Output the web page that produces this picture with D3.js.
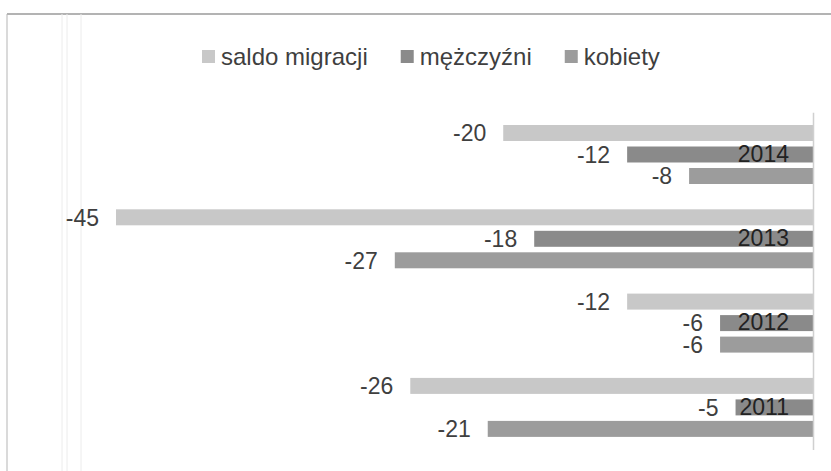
<!DOCTYPE html>
<html>
<head>
<meta charset="utf-8">
<script src="https://cdn.jsdelivr.net/npm/d3@7"></script>
<style>
  body { margin: 0; background: #fff; }
  text { font-family: "Liberation Sans", Arial, sans-serif; }
</style>
</head>
<body>
<div id="chart"></div>
<script>
// data
var years = ["2014", "2013", "2012", "2011"];
var seriesNames = ["saldo migracji", "mężczyźni", "kobiety"];
var saldo = [-20, -45, -12, -26];
var men = [-12, -18, -6, -5];
var women = [-8, -27, -6, -21];

var seriesColors = ["#c8c8c8", "#8a8a8a", "#9c9c9c"];

var svgWidth = 831;
var svgHeight = 471;

var svg = d3.select("#chart")
  .append("svg")
  .attr("width", svgWidth)
  .attr("height", svgHeight);

// chart frame (top and left edges of the scanned box)
svg.append("line")
  .attr("x1", 7).attr("x2", svgWidth).attr("y1", 14).attr("y2", 14)
  .attr("stroke", "#9a9a9a").attr("stroke-width", 1.5);
svg.append("line")
  .attr("x1", 7).attr("x2", 7).attr("y1", 14).attr("y2", svgHeight)
  .attr("stroke", "#b5b5b5").attr("stroke-width", 1);

// faint page lines from the scan
[62, 67, 81].forEach(function(px) {
  svg.append("line")
    .attr("x1", px).attr("x2", px).attr("y1", 14).attr("y2", svgHeight)
    .attr("stroke", "#ececec").attr("stroke-width", 1);
});

// scales
var xScale = d3.scaleLinear()
  .domain([-45, 0])
  .range([116, 813]);

var yGroup = d3.scaleBand()
  .domain(years)
  .range([112.35, 449.55])
  .paddingInner(0.235)
  .paddingOuter(0.1175);

var ySeries = d3.scaleBand()
  .domain(seriesNames)
  .range([0, yGroup.bandwidth()])
  .paddingInner(0.256)
  .paddingOuter(0.128);

// build rows from the arrays
var rows = [];
years.forEach(function(yr, i) {
  [saldo[i], men[i], women[i]].forEach(function(v, j) {
    rows.push({ year: yr, series: seriesNames[j], value: v, color: seriesColors[j] });
  });
});

var chartGroup = svg.append("g");

// bars
chartGroup.selectAll("rect.bar")
  .data(rows)
  .enter()
  .append("rect")
  .attr("class", "bar")
  .attr("x", d => xScale(d.value))
  .attr("y", d => yGroup(d.year) + ySeries(d.series))
  .attr("width", d => xScale(0) - xScale(d.value))
  .attr("height", ySeries.bandwidth())
  .attr("fill", d => d.color);

// value labels
chartGroup.selectAll("text.val")
  .data(rows)
  .enter()
  .append("text")
  .attr("class", "val")
  .attr("x", d => xScale(d.value) - 17)
  .attr("y", d => yGroup(d.year) + ySeries(d.series) + ySeries.bandwidth() / 2)
  .attr("dy", "0.36em")
  .attr("text-anchor", "end")
  .attr("font-size", "23px")
  .attr("fill", "#3f3f3f")
  .text(d => d.value);

// category axis at zero, labels sit inside the bars
var yAxis = d3.axisLeft(yGroup).tickSize(0).tickPadding(24);
var axisG = chartGroup.append("g")
  .attr("transform", `translate(${xScale(0)}, 0)`)
  .call(yAxis);
axisG.select(".domain").attr("stroke", "#d0d0d0").attr("stroke-width", 1.5);
axisG.selectAll(".tick text")
  .attr("font-size", "23px")
  .attr("font-family", "Liberation Sans, Arial, sans-serif")
  .attr("fill", "#222");

// legend
var legend = svg.append("g");
var lx = 202;
seriesNames.forEach(function(name, i) {
  legend.append("rect")
    .attr("x", lx).attr("y", 50)
    .attr("width", 13).attr("height", 13)
    .attr("fill", seriesColors[i]);
  var t = legend.append("text")
    .attr("x", lx + 19).attr("y", 65)
    .attr("font-size", "24px")
    .attr("fill", "#3f3f3f")
    .text(name);
  lx += 19 + t.node().getComputedTextLength() + 33;
});
</script>
</body>
</html>
